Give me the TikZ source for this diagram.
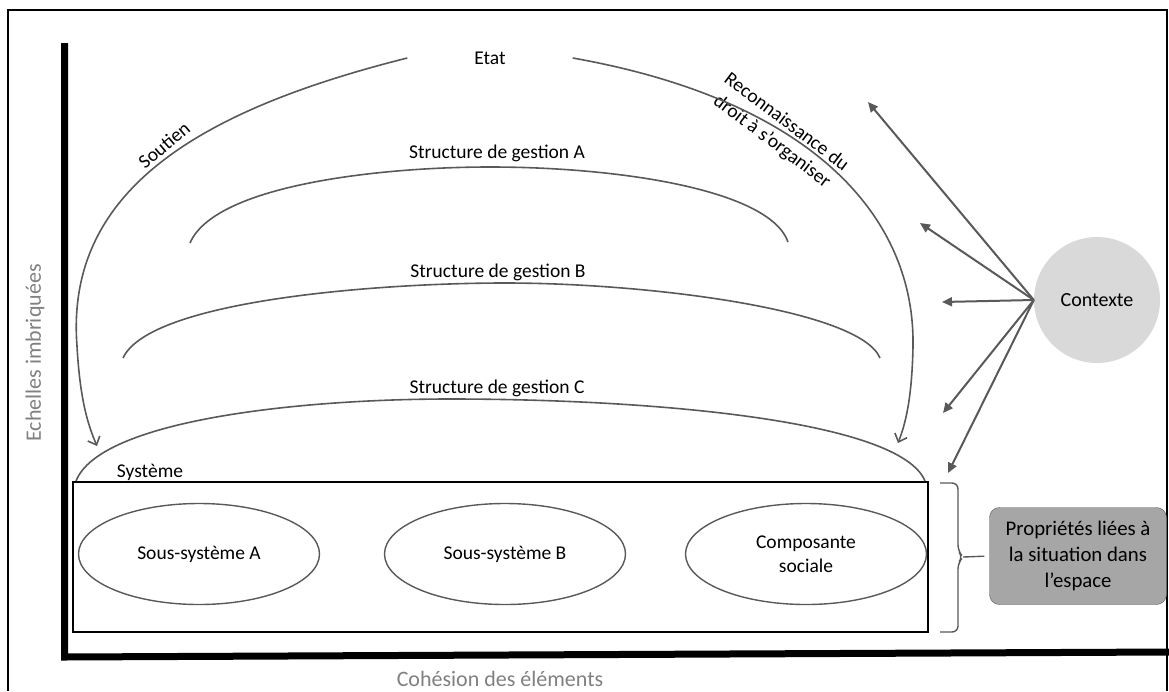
\documentclass[tikz,border=0pt]{standalone}
\usepackage{fontspec}
\setmainfont{Carlito}
\usepackage{tikz}
\usetikzlibrary{arrows.meta,shapes.geometric}
\definecolor{linegray}{HTML}{595959}
\definecolor{axisgray}{HTML}{808080}
\definecolor{ctxgray}{HTML}{D9D9D9}
\definecolor{boxgray}{HTML}{A6A6A6}

\begin{document}
\begin{tikzpicture}[
  x=1pt, y=-1pt,
  txt/.style={font=\fontsize{19.5}{24}\selectfont, inner sep=0pt, align=center},
  axislabel/.style={font=\fontsize{22}{26}\selectfont, text=axisgray},
  sub/.style={draw=linegray, line width=1.4pt, ellipse, minimum width=241pt, minimum height=101pt, align=center, font=\fontsize{19.5}{24}\selectfont},
  curve/.style={draw=linegray, line width=1.6pt},
  link/.style={-{Straight Barb[length=7pt,width=13pt]}, linegray, line width=1.6pt},
  arrow/.style={-{Triangle[length=10pt,width=9pt]}, linegray, line width=2pt}
]
\useasboundingbox (0,0) rectangle (1169,691);
\draw[line width=1.5pt] (8,691) -- (8,10) -- (1167,10) -- (1167,691);
\draw[line width=7pt] (64.5,43) -- (64.5,657) -- (1169,652);

\node[axislabel, rotate=90] (echelles) at (35,353) {Echelles imbriquées};
\node[axislabel] (cohesion) at (500,679) {Cohésion des éléments};

\node[txt, minimum width=165pt] (etat) at (490,58) {Etat};
\node[txt, rotate=40] (soutien) at (164,145) {Soutien};
\node[txt, rotate=-37] (reco) at (779,132) {Reconnaissance du\\droit à s’organiser};

\node[txt] (sgA) at (497,153) {Structure de gestion A};
\node[txt] (sgB) at (498,272) {Structure de gestion B};
\node[txt] (sgC) at (497,388) {Structure de gestion C};
\node[txt] (systeme) at (150,472) {Système};

\node[draw, line width=2pt, minimum width=855pt, minimum height=150pt, inner sep=0pt] (sysbox) at (500.5,557) {};
\node[sub] (ssA) at (199,554) {Sous-système A};
\node[sub] (ssB) at (505,554) {Sous-système B};
\node[sub] (compsoc) at (806,554) {Composante\\sociale};

\node[circle, fill=ctxgray, minimum size=126pt, font=\fontsize{20}{24}\selectfont] (ctx) at (1097,300) {Contexte};
\node[draw=linegray, fill=boxgray, rounded corners=10pt, minimum width=177pt, minimum height=97pt, align=center, font=\fontsize{20.8}{26}\selectfont] (prop) at (1078,556) {Propriétés liées à\\la situation dans\\l’espace};

\draw[link] (etat.west) .. controls (200,110) and (65,190) .. (77,346) .. controls (80,400) and (88,425) .. (97,446);
\draw[link] (etat.east) .. controls (810,100) and (915,215) .. (913,346) .. controls (912,400) and (905,425) .. (898,443);

\draw[curve] (190,243) .. controls (215,185) and (380,167) .. (490,167) .. controls (620,167) and (770,190) .. (788,242);
\draw[curve] (123,358) .. controls (150,300) and (380,283) .. (505,283) .. controls (650,283) and (860,310) .. (880,358);
\draw[curve] (sysbox.north west) ++(4,0) .. controls (100,420) and (300,399) .. (450,399) .. controls (650,399) and (900,420) .. (925,481);

\coordinate (c1) at (868,102);
\coordinate (c2) at (920,223);
\coordinate (c3) at (942,302);
\coordinate (c4) at (943,413);
\coordinate (c5) at (948,473);
\foreach \t in {c1,c2,c3,c4,c5}
  \draw[arrow] (ctx.west) -- (\t);

\draw[curve, line width=1.4pt, rounded corners=6pt] (940,483) -- (958,483) -- (958,551) -- (963,557) -- (958,563) -- (958,632) -- (940,632);
\coordinate (brace) at (963,557);
\draw[curve, line width=1.4pt, shorten >=5pt] (brace) -- (prop.west);
\end{tikzpicture}
\end{document}
